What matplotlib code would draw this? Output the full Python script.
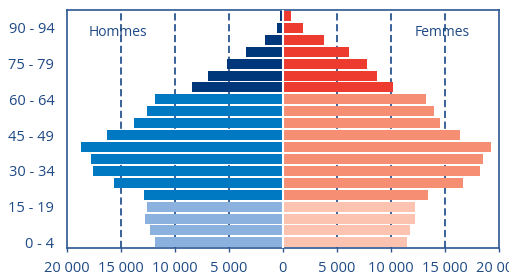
import matplotlib
matplotlib.use("Agg")
import matplotlib.pyplot as plt
import numpy as np

plt.rcParams['font.family'] = ['Open Sans', 'DejaVu Sans']

ages = ["0 - 4", "5 - 9", "10 - 14", "15 - 19", "20 - 24", "25 - 29", "30 - 34",
        "35 - 39", "40 - 44", "45 - 49", "50 - 54", "55 - 59", "60 - 64",
        "65 - 69", "70 - 74", "75 - 79", "80 - 84", "85 - 89", "90 - 94", "95 +"]
hommes = [11800, 12300, 12750, 12600, 12870, 15600, 17550, 17750, 18700, 16250,
          13770, 12600, 11820, 8430, 6940, 5190, 3430, 1640, 560, 250]
femmes = [11480, 11760, 12220, 12220, 13430, 16670, 18240, 18520, 19260, 16390,
          14540, 13980, 13240, 10190, 8700, 7780, 6100, 3800, 1850, 750]
shown_labels = ["0 - 4", "15 - 19", "30 - 34", "45 - 49", "60 - 64", "75 - 79", "90 - 94"]
xticks = [-20000, -15000, -10000, -5000, 0, 5000, 10000, 15000, 20000]

navy = "#00377A"
mid_blue = "#0079C2"
light_blue = "#8BB2DF"
red = "#EE3B30"
salmon = "#F68E74"
pink = "#FBC3B0"
axis_col = "#2B5691"
text_col = "#1F4A85"

def color_for(i, young, adult, old):
    if i < 4:
        return young
    if i < 13:
        return adult
    return old

fig = plt.figure(figsize=(5.10, 2.77), dpi=100)
ax = fig.add_axes([0.131, 0.1036, 0.847, 0.8604])

y = np.arange(len(ages))
hcols = [color_for(i, light_blue, mid_blue, navy) for i in range(len(ages))]
fcols = [color_for(i, pink, salmon, red) for i in range(len(ages))]

for xv in [-15000, -10000, -5000, 5000, 10000, 15000]:
    ax.axvline(xv, color=axis_col, lw=1.3, ls=(0, (4, 2)), zorder=1)

ax.barh(y, [-v for v in hommes], height=0.84, color=hcols, zorder=2)
ax.barh(y, femmes, height=0.84, color=fcols, zorder=2)
ax.axvline(0, color="white", lw=1.5, zorder=3)

ax.set_xlim(-20000, 20000)
ax.set_ylim(-0.5, len(ages) - 0.5)

ax.set_xticks(xticks)
ax.set_xticklabels([f"{abs(v):,}".replace(",", " ") for v in xticks])
ax.set_yticks([ages.index(l) for l in shown_labels])
ax.set_yticklabels(shown_labels)

ax.tick_params(axis='x', colors=axis_col, labelcolor=text_col, labelsize=10.5,
               length=3, width=1, direction='out', pad=6)
ax.tick_params(axis='y', length=0, labelcolor=text_col, labelsize=10.5, pad=9)

for s in ax.spines.values():
    s.set_color(axis_col)
    s.set_linewidth(1.2)

ax.text(-18000, 17.6, "Hommes", color=text_col, fontsize=10, va='center', ha='left')
ax.text(14800, 17.6, "Femmes", color=text_col, fontsize=10, va='center', ha='center')

fig.savefig("out.png", dpi=100)
